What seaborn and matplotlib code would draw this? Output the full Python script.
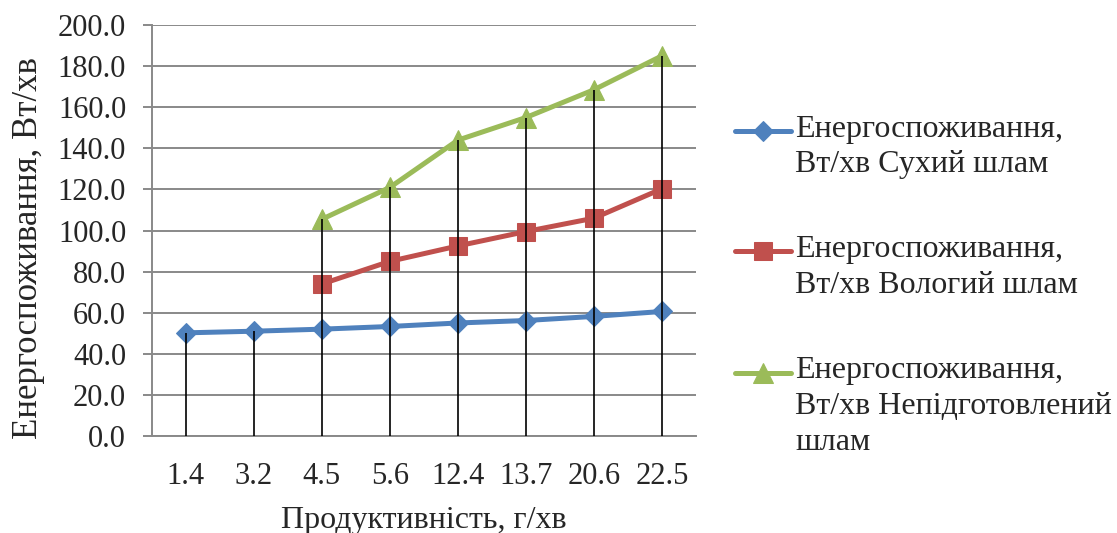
import numpy as np
import pandas as pd
import seaborn as sns
from matplotlib import pyplot as plt
from matplotlib.ticker import FormatStrFormatter

CATEGORIES = ['1.4', '3.2', '4.5', '5.6', '12.4', '13.7', '20.6', '22.5']
DRY = [50.2, 51.0, 52.0, 53.3, 55.0, 56.2, 58.2, 60.6]
WET = [np.nan, np.nan, 74.0, 85.0, 92.5, 99.5, 106.0, 120.3]
RAW = [np.nan, np.nan, 105.5, 121.0, 144.0, 155.0, 168.5, 185.0]

SERIES = [
    'Енергоспоживання,\nВт/хв Сухий шлам',
    'Енергоспоживання,\nВт/хв Вологий шлам',
    'Енергоспоживання,\nВт/хв Непідготовлений\nшлам',
]
COLORS = ['#4F81BD', '#C0504D', '#9BBB59']
MARKERS = ['D', 's', '^']
MSIZES = [10.5, 12.5, 14]


def main():
    sns.set_style('white')
    plt.rcParams['font.family'] = ['Liberation Serif', 'DejaVu Serif']

    fig = plt.figure(figsize=(11.17, 5.33), dpi=100)
    ax = fig.add_axes([0.136, 0.182, 0.487, 0.771])

    pos = np.arange(len(CATEGORIES))
    for name, vals, color, marker, ms in zip(SERIES, [DRY, WET, RAW], COLORS, MARKERS, MSIZES):
        df = pd.DataFrame({'x': pos, 'y': vals}).dropna()
        sns.lineplot(x='x', y='y', data=df, color=color, marker=marker, markersize=ms,
                     markeredgecolor=color, linewidth=3.6, label=name, ax=ax, zorder=3)

    # drop lines from the highest point of each category
    tops = np.nanmax(np.array([DRY, WET, RAW]), axis=0)
    ax.vlines(pos, 0, tops, color='black', linewidth=1.2, zorder=4)

    ax.set_xlim(-0.5, len(CATEGORIES) - 0.5)
    ax.set_ylim(0, 200)
    ax.set_yticks(np.arange(0, 201, 20))
    ax.yaxis.set_major_formatter(FormatStrFormatter('%.1f'))
    ax.set_xticks(pos)
    ax.set_xticklabels(CATEGORIES)

    ax.grid(axis='y', color='#898989', linewidth=1.4)
    ax.set_axisbelow(True)
    for side in ['top', 'right']:
        ax.spines[side].set_visible(False)
    for side in ['left', 'bottom']:
        ax.spines[side].set_color('#898989')
        ax.spines[side].set_linewidth(1.4)

    ax.tick_params(axis='y', left=True, length=6.5, width=1.4, color='#898989', pad=12, labelsize=22)
    ax.tick_params(axis='x', bottom=False, pad=15, labelsize=22)

    ax.set_xlabel('Продуктивність, г/хв', fontsize=23, labelpad=11)
    ax.set_ylabel('Енергоспоживання, Вт/хв', fontsize=25)
    ax.yaxis.set_label_coords(-0.197, 0.457)

    leg = ax.legend(loc='upper left', bbox_to_anchor=(1.049, 0.813), frameon=False, fontsize=23,
                    handlelength=1.75, handletextpad=0.12, labelspacing=1.76, borderaxespad=0)
    for t in leg.get_texts():
        t.set_linespacing(1.3)

    # put each handle on the first line of its label, like the original
    fig.canvas.draw()
    for column in leg._legend_handle_box.get_children():
        for item in column.get_children():
            handle_box, text_box = item.get_children()
            txt = text_box._text
            nlines = txt.get_text().count('\n') + 1
            if nlines < 2:
                continue
            ext = txt.get_window_extent()
            step = ext.height / nlines * 72 / fig.dpi
            shift = (nlines - 1) / 2 * step
            for art in handle_box.get_children():
                art.set_ydata(np.asarray(art.get_ydata()) + shift)

    fig.savefig('out.png', dpi=100)


if __name__ == '__main__':
    main()
